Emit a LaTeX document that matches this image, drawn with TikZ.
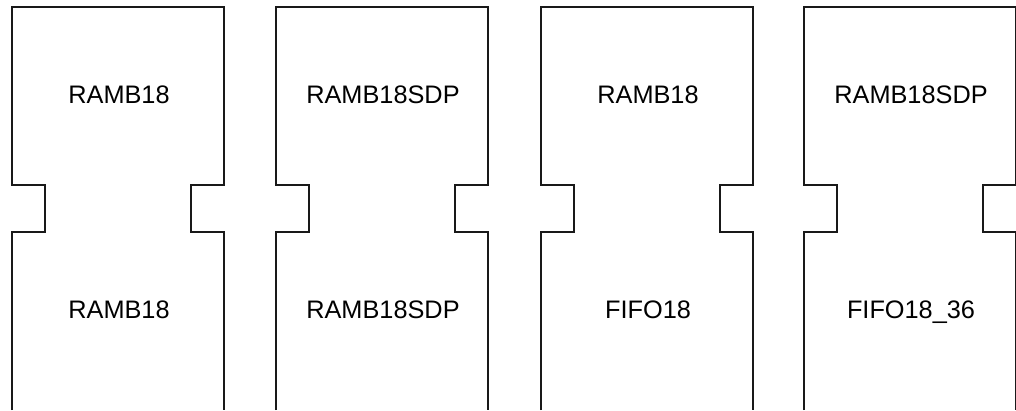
\documentclass[tikz,border=0pt]{standalone}
\usepackage{fontspec}
\setmainfont{Liberation Sans}
\usepackage{tikz}
\usetikzlibrary{positioning}

\begin{document}
\begin{tikzpicture}[
    x=0.025cm,y=-0.025cm,
    outline/.style={draw=black!90,line width=1.6pt,line join=miter},
    lbl/.style={font=\fontsize{18}{20}\selectfont,inner sep=0pt,
                text height=13pt,text depth=4pt},
  ]
    \useasboundingbox (0,0) rectangle (1016,410);
    % block outlines, open at the bottom
    \draw[outline] (12,410) -- ++(0,-178) -- ++(33,0) -- ++(0,-47) -- ++(-33,0) -- ++(0,-178)
      -- ++(212,0) -- ++(0,178) -- ++(-33,0) -- ++(0,47) -- ++(33,0) -- ++(0,178);
    \draw[outline] (276,410) -- ++(0,-178) -- ++(33,0) -- ++(0,-47) -- ++(-33,0) -- ++(0,-178)
      -- ++(212,0) -- ++(0,178) -- ++(-33,0) -- ++(0,47) -- ++(33,0) -- ++(0,178);
    \draw[outline] (541,410) -- ++(0,-178) -- ++(33,0) -- ++(0,-47) -- ++(-33,0) -- ++(0,-178)
      -- ++(212,0) -- ++(0,178) -- ++(-33,0) -- ++(0,47) -- ++(33,0) -- ++(0,178);
    \draw[outline] (804,410) -- ++(0,-178) -- ++(33,0) -- ++(0,-47) -- ++(-33,0) -- ++(0,-178)
      -- ++(212,0) -- ++(0,178) -- ++(-33,0) -- ++(0,47) -- ++(33,0) -- ++(0,178);
    % labels
    \node[lbl] (top1) at (119,97) {RAMB18};
    \node[lbl] (bot1) at (119,312) {RAMB18};
    \node[lbl] (top2) at (383,97) {RAMB18SDP};
    \node[lbl] (bot2) at (383,312) {RAMB18SDP};
    \node[lbl] (top3) at (648,97) {RAMB18};
    \node[lbl] (bot3) at (648,312) {FIFO18};
    \node[lbl] (top4) at (911,97) {RAMB18SDP};
    \node[lbl] (bot4) at (911,312) {FIFO18\_36};
  \end{tikzpicture}
\end{document}
